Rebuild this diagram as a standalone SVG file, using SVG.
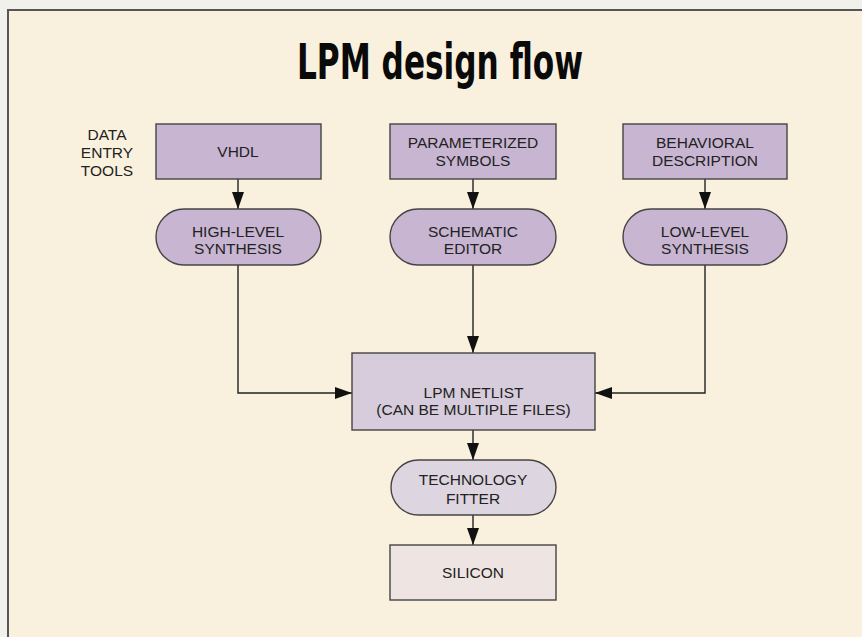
<svg xmlns="http://www.w3.org/2000/svg" width="862" height="637" viewBox="0 0 862 637">
<defs>
<marker id="ah" markerUnits="userSpaceOnUse" markerWidth="17" markerHeight="12" refX="17" refY="6" orient="auto">
<path d="M0,0 L17,6 L0,12 z" fill="#111"/>
</marker>
</defs>
<style>
.t{font-family:"Liberation Sans",Arial,sans-serif;font-size:15.5px;fill:#222;text-anchor:middle}
.box{stroke:#444;stroke-width:1.4}
.p{fill:#c8b5d2}
.c{fill:none;stroke:#222;stroke-width:1.4}
</style>
<rect x="0" y="0" width="862" height="637" fill="#f2f0ea"/>
<rect x="8" y="10" width="870" height="640" fill="#f9f1de" stroke="#555" stroke-width="2"/>
<text x="440" y="79" font-family="'Liberation Sans Narrow','DejaVu Sans Condensed','Liberation Sans',sans-serif" font-weight="bold" font-size="50" text-anchor="middle" textLength="286" lengthAdjust="spacingAndGlyphs" fill="#0a0a0a">LPM design flow</text>
<g id="label-data-entry">
<text class="t" x="107" y="140">DATA</text>
<text class="t" x="107" y="158">ENTRY</text>
<text class="t" x="107" y="176">TOOLS</text>
</g>
<g id="connectors">
<path class="c" d="M238,179 V209" marker-end="url(#ah)"/>
<path class="c" d="M473,179 V209" marker-end="url(#ah)"/>
<path class="c" d="M705,179 V209" marker-end="url(#ah)"/>
<path class="c" d="M238,265 V393 H352" marker-end="url(#ah)"/>
<path class="c" d="M473,265 V353" marker-end="url(#ah)"/>
<path class="c" d="M705,265 V393 H595" marker-end="url(#ah)"/>
<path class="c" d="M473,430 V460" marker-end="url(#ah)"/>
<path class="c" d="M473,515 V545" marker-end="url(#ah)"/>
</g>
<g id="vhdl">
<rect class="box p" x="156" y="124" width="165" height="55"/>
<text class="t" x="238" y="157">VHDL</text>
</g>
<g id="param-symbols">
<rect class="box p" x="390" y="124" width="166" height="55"/>
<text class="t" x="473" y="148">PARAMETERIZED</text>
<text class="t" x="473" y="166">SYMBOLS</text>
</g>
<g id="behavioral">
<rect class="box p" x="623" y="124" width="164" height="55"/>
<text class="t" x="705" y="148">BEHAVIORAL</text>
<text class="t" x="705" y="166">DESCRIPTION</text>
</g>
<g id="high-level">
<rect class="box p" x="156" y="209" width="165" height="56" rx="28"/>
<text class="t" x="238" y="237">HIGH-LEVEL</text>
<text class="t" x="238" y="254">SYNTHESIS</text>
</g>
<g id="schematic">
<rect class="box p" x="390" y="209" width="166" height="56" rx="28"/>
<text class="t" x="473" y="237">SCHEMATIC</text>
<text class="t" x="473" y="254">EDITOR</text>
</g>
<g id="low-level">
<rect class="box p" x="623" y="209" width="164" height="56" rx="28"/>
<text class="t" x="705" y="237">LOW-LEVEL</text>
<text class="t" x="705" y="254">SYNTHESIS</text>
</g>
<g id="netlist">
<rect class="box" x="352" y="353" width="243" height="77" fill="#d6ccdb"/>
<text class="t" x="473.5" y="398">LPM NETLIST</text>
<text class="t" x="473.5" y="415">(CAN BE MULTIPLE FILES)</text>
</g>
<g id="fitter">
<rect class="box" x="391" y="460" width="165" height="55" rx="27.5" fill="#ddd5df"/>
<text class="t" x="473" y="485">TECHNOLOGY</text>
<text class="t" x="473" y="504">FITTER</text>
</g>
<g id="silicon">
<rect class="box" x="390" y="545" width="166" height="55" fill="#eee5e3"/>
<text class="t" x="473" y="578">SILICON</text>
</g>
</svg>
